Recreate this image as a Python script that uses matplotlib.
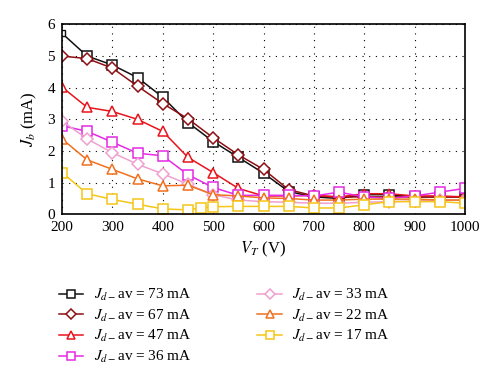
import numpy as np
import matplotlib
matplotlib.use("Agg")
import matplotlib.pyplot as plt

plt.rcParams['font.family'] = ['Liberation Serif', 'DejaVu Serif']
plt.rcParams['mathtext.fontset'] = 'stix'

# V_T (V)
v_full = [200, 250, 300, 350, 400, 450, 500, 550, 600, 650, 700, 750, 800, 850, 900, 950, 1000]
v_yel = [200, 250, 300, 350, 400, 450, 475, 500, 550, 600, 650, 700, 750, 800, 850, 900, 950, 1000]

# J_b (mA) for each J_d-av
jb_73 = [5.72, 5.0, 4.72, 4.32, 3.7, 2.9, 2.3, 1.8, 1.3, 0.72, 0.55, 0.5, 0.62, 0.62, 0.55, 0.55, 0.55]
jb_67 = [5.0, 4.92, 4.62, 4.05, 3.5, 3.02, 2.42, 1.88, 1.42, 0.78, 0.58, 0.55, 0.55, 0.55, 0.55, 0.55, 0.55]
jb_47 = [4.02, 3.38, 3.25, 3.0, 2.62, 1.8, 1.32, 0.82, 0.58, 0.58, 0.6, 0.55, 0.65, 0.65, 0.58, 0.58, 0.55]
jb_36 = [2.8, 2.62, 2.28, 1.93, 1.85, 1.25, 0.85, 0.6, 0.6, 0.6, 0.58, 0.7, 0.55, 0.5, 0.58, 0.7, 0.82]
jb_33 = [2.95, 2.38, 1.95, 1.58, 1.28, 0.95, 0.62, 0.45, 0.4, 0.38, 0.35, 0.35, 0.38, 0.4, 0.42, 0.45, 0.45]
jb_22 = [2.38, 1.72, 1.42, 1.12, 0.9, 0.92, 0.62, 0.58, 0.52, 0.5, 0.45, 0.45, 0.48, 0.48, 0.48, 0.45, 0.45]
jb_17 = [1.32, 0.65, 0.47, 0.32, 0.17, 0.14, 0.2, 0.24, 0.25, 0.25, 0.25, 0.2, 0.2, 0.3, 0.4, 0.4, 0.4, 0.35]

labels = ['73', '67', '47', '36', '33', '22', '17']

series = [
    (v_full, jb_73, '#111111', 's'),
    (v_full, jb_67, '#8e0f14', 'D'),
    (v_full, jb_47, '#e8141c', '^'),
    (v_full, jb_36, '#e42ae4', 's'),
    (v_full, jb_33, '#f0a0d0', 'D'),
    (v_full, jb_22, '#f07020', '^'),
    (v_yel, jb_17, '#f5c518', 's'),
]

fig = plt.figure(figsize=(5, 3.82), dpi=100)
ax = fig.add_axes([0.124, 0.439, 0.806, 0.497])

for i, ((x, y, c, m), lab) in enumerate(zip(series, labels)):
    ms = 6 if m == 'D' else 7
    # first point of the 73 mA curve is drawn with a small marker
    every = slice(1, None) if i == 0 else None
    ax.plot(x, y, color=c, marker=m, markersize=ms, markerfacecolor='white',
            markeredgecolor=c, markeredgewidth=1.1, linewidth=1.1, markevery=every,
            label=r'$J_{d-}$av = ' + lab + ' mA')
    if i == 0:
        ax.plot(x[:1], y[:1], linestyle='none', marker=m, markersize=4,
                markerfacecolor='white', markeredgecolor=c, markeredgewidth=1.0)

ax.set_xlim(200, 1000)
ax.set_ylim(0, 6)
ax.set_xticks(np.arange(200, 1001, 100))
ax.set_yticks(np.arange(0, 7, 1))
ax.grid(True, color='black', linestyle=(0, (1, 5)), linewidth=0.8)
ax.tick_params(length=0, labelsize=11, pad=5)
for s in ax.spines.values():
    s.set_linewidth(1.2)
ax.set_xlabel(r'$V_T$ (V)', fontsize=12, labelpad=4)
ax.set_ylabel(r'$J_b$ (mA)', fontsize=12, labelpad=6)

handles, labs = ax.get_legend_handles_labels()
fig.legend(handles, labs, ncol=2, loc='upper left', bbox_to_anchor=(0.09, 0.285),
           frameon=False, fontsize=11, handlelength=1.6, columnspacing=4.3,
           labelspacing=0.3, handletextpad=0.7, markerscale=0.85)

fig.savefig('out.png', dpi=100)
